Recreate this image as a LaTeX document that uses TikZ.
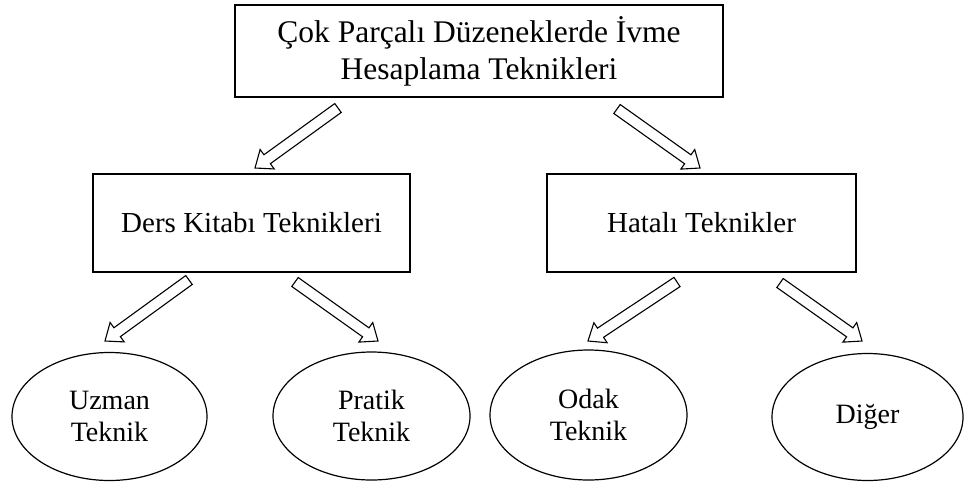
\documentclass[tikz,border=0pt]{standalone}
\usepackage{fontspec}
\setmainfont{Liberation Serif}
\usetikzlibrary{calc,shapes.geometric}

\tikzset{
	kutu/.style={draw, black, line width=1.2pt, rectangle, align=center, inner sep=0pt},
	oval/.style={draw, black, line width=1.2pt, ellipse, align=center, inner sep=0pt,
		font=\fontsize{28}{32}\selectfont},
	blok/.style={draw, black, line width=1.1pt, fill=white, line join=miter},
}

% hollow block arrow from #1 (tail) to #2 (tip)
\newcommand{\blokok}[2]{%
	\coordinate (#1-b) at ($(#2)!15pt!(#1)$);
	\draw[blok] ($(#1)!5.5pt!90:(#2)$) -- ($(#1-b)!5.5pt!90:(#2)$)
		-- ($(#1-b)!12pt!90:(#2)$) -- (#2) -- ($(#1-b)!12pt!-90:(#2)$)
		-- ($(#1-b)!5.5pt!-90:(#2)$) -- ($(#1)!5.5pt!-90:(#2)$) -- cycle;
}

\begin{document}
\begin{tikzpicture}[x=1pt, y=-1pt]
	\useasboundingbox (0,0) rectangle (965,483);

	% boxes
	\node[kutu, minimum width=488, minimum height=92, font=\fontsize{31.5}{37}\selectfont]
		(ana) at (479,51) {Çok Parçalı Düzeneklerde İvme\\Hesaplama Teknikleri};
	\node[kutu, minimum width=317, minimum height=98, font=\fontsize{29}{34}\selectfont]
		(ders) at (251.5,223) {Ders Kitabı Teknikleri};
	\node[kutu, minimum width=309, minimum height=98, font=\fontsize{29}{34}\selectfont]
		(hata) at (701.5,223) {Hatalı Teknikler};

	% ellipses
	\node[oval, minimum width=195, minimum height=128] (uzman) at (109.5,416.5) {Uzman\\Teknik};
	\node[oval, minimum width=197, minimum height=128] (pratik) at (371.5,416) {Pratik\\Teknik};
	\node[oval, minimum width=197, minimum height=130] (odak) at (588.5,415) {Odak\\Teknik};
	\node[oval, minimum width=191, minimum height=127] (diger) at (867.5,417) {Diğer};

	% arrow ends
	\coordinate (a1) at (338,108);  \coordinate (b1) at (255,168);
	\coordinate (a2) at (617,109);  \coordinate (b2) at (700,168);
	\coordinate (a3) at (189,280);  \coordinate (b3) at (105,341);
	\coordinate (a4) at (295,282);  \coordinate (b4) at (378,341);
	\coordinate (a5) at (677,282);  \coordinate (b5) at (588,341);
	\coordinate (a6) at (780,283);  \coordinate (b6) at (862,341);

	\blokok{a1}{b1}
	\blokok{a2}{b2}
	\blokok{a3}{b3}
	\blokok{a4}{b4}
	\blokok{a5}{b5}
	\blokok{a6}{b6}
\end{tikzpicture}
\end{document}
